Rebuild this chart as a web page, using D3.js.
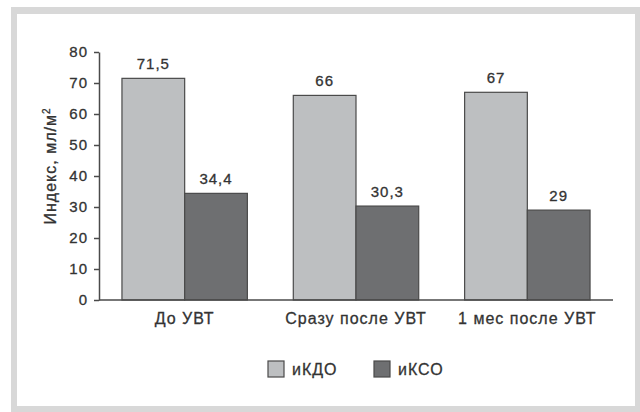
<!DOCTYPE html>
<meta charset="utf-8">
<style>
body { margin: 0; background: #fff; }
.chart text { font-family: "Liberation Sans", Arial, sans-serif; fill: #333; stroke: #333; stroke-width: 0.3px; letter-spacing: 1px; }
</style>
<svg class="chart" width="640" height="412"></svg>
<script src="https://d3js.org/d3.v7.min.js"></script>
<script>

var categories = ["До УВТ", "Сразу после УВТ", "1 мес после УВТ"];
var seriesNames = ["иКДО", "иКСО"];
var ikdo = [71.5, 66, 67];
var ikso = [34.4, 30.3, 29];
var valueLabels = [["71,5", "34,4"], ["66", "30,3"], ["67", "29"]];
var yTicks = [0, 10, 20, 30, 40, 50, 60, 70, 80];

var colors = ["#bdbfc1", "#6e6f71"];

var svg = d3.select(".chart");

// frame
svg.append("rect").attr("x", 11).attr("y", 7).attr("width", 629).attr("height", 405).style("fill", "#d8d8d8");
svg.append("rect").attr("x", 17).attr("y", 14).attr("width", 618).attr("height", 392).style("fill", "#fff");

var x0 = d3.scaleBand().domain(categories).range([99, 613]).paddingInner(0.268).paddingOuter(0.134);
var x1 = d3.scaleBand().domain(seriesNames).range([0, x0.bandwidth()]);
var y = d3.scaleLinear().domain([0, 80]).range([300, 52]);

var rows = categories.map(function(c, i) {
  return { cat: c, vals: [ikdo[i], ikso[i]], labels: valueLabels[i] };
});

var g = svg.selectAll("g.grp")
  .data(rows)
  .enter().append("g")
    .attr("class", "grp")
    .attr("transform", function(d) { return "translate(" + x0(d.cat) + ",0)"; });

g.selectAll("rect")
  .data(function(d) { return d.vals.map(function(v, j) { return { v: v, s: seriesNames[j], j: j, label: d.labels[j] }; }); })
  .enter().append("rect")
    .attr("x", function(d) { return x1(d.s); })
    .attr("y", function(d) { return y(d.v); })
    .attr("width", x1.bandwidth())
    .attr("height", function(d) { return y(0) - y(d.v); })
    .style("fill", function(d) { return colors[d.j]; })
    .style("stroke", "#4a4a4a")
    .style("stroke-width", 1.2);

g.selectAll("text.val")
  .data(function(d) { return d.vals.map(function(v, j) { return { v: v, s: seriesNames[j], label: d.labels[j] }; }); })
  .enter().append("text")
    .attr("class", "val")
    .attr("x", function(d) { return x1(d.s) + x1.bandwidth() / 2; })
    .attr("y", function(d) { return y(d.v) - 9; })
    .attr("text-anchor", "middle")
    .style("font-size", "15px")
    .text(function(d) { return d.label; });

// y axis
var yAxis = d3.axisLeft(y).tickValues(yTicks).tickSize(5).tickPadding(6).tickSizeOuter(0);
var ya = svg.append("g").attr("transform", "translate(99,0)").call(yAxis);
ya.selectAll("text").style("font-size", "15px").style("font-family", null);
ya.selectAll("line, path").style("stroke", "#4a4a4a").style("stroke-width", 1.5);

// x axis line
svg.append("line")
  .attr("x1", 99).attr("x2", 613)
  .attr("y1", y(0)).attr("y2", y(0))
  .style("stroke", "#4a4a4a").style("stroke-width", 1.5);

svg.selectAll("text.cat")
  .data(categories)
  .enter().append("text")
    .attr("class", "cat")
    .attr("x", function(d) { return x0(d) + x0.bandwidth() / 2; })
    .attr("y", 324)
    .attr("text-anchor", "middle")
    .style("font-size", "16px")
    .text(function(d) { return d; });

// y title
var yt = svg.append("text")
  .attr("transform", "translate(56,166) rotate(-90)")
  .attr("text-anchor", "middle")
  .style("font-size", "16px");
yt.append("tspan").text("Индекс, мл/м");
yt.append("tspan").attr("dy", -6).style("font-size", "10px").text("2");

// legend
var legendX = [268, 374];
var lg = svg.selectAll("g.leg")
  .data(seriesNames)
  .enter().append("g")
    .attr("class", "leg")
    .attr("transform", function(d, i) { return "translate(" + legendX[i] + ",361)"; });

lg.append("rect")
  .attr("width", 16).attr("height", 16)
  .style("fill", function(d, i) { return colors[i]; })
  .style("stroke", "#4a4a4a").style("stroke-width", 1.2);

lg.append("text")
  .attr("x", 24).attr("y", 14)
  .style("font-size", "16px")
  .text(function(d) { return d; });

</script>
